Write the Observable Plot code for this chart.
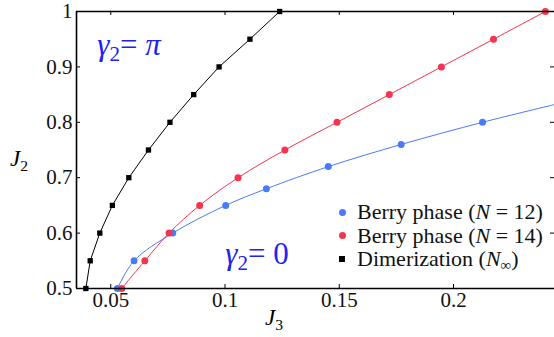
<!DOCTYPE html>
<html><head><meta charset="utf-8">
<script src="https://cdn.jsdelivr.net/npm/d3@7"></script>
<script src="https://cdn.jsdelivr.net/npm/@observablehq/plot@0.6"></script>
<style>
body{margin:0;background:#fff;}
#wrap{position:relative;width:554px;height:337px;font-family:'Liberation Serif',serif;}
.lab{position:absolute;white-space:nowrap;line-height:1;font-family:'Liberation Serif',serif;}
.lab sub{font-size:68%;vertical-align:-0.3em;line-height:0;}
</style></head><body><div id="wrap"></div>
<script>
// Dimerization (N_inf)
const blackJ2 = [0.5,0.55,0.6,0.65,0.7,0.75,0.8,0.85,0.9,0.95,1.0];
const blackJ3 = [0.0391,0.0410,0.0452,0.0507,0.0579,0.0665,0.0759,0.0863,0.0974,0.1109,0.1239];
// Berry phase N = 14
const redJ2 = [0.5,0.55,0.6,0.65,0.7,0.75,0.8,0.85,0.9,0.95,1.0];
const redJ3 = [0.0548,0.0649,0.0755,0.0889,0.1057,0.1262,0.1490,0.1719,0.1947,0.2175,0.2402];
// Berry phase N = 12
const blueJ2 = [0.5,0.55,0.6,0.65,0.68,0.72,0.76,0.8];
const blueJ3 = [0.0529,0.0602,0.0771,0.1003,0.1181,0.1452,0.1771,0.2127];
// blue curve continues to the right edge of the plot
const blueTailJ3 = [0.2442];
const blueTailJ2 = [0.832];

const xTicks = [0.05,0.1,0.15,0.2];
const xTickLabels = ["0.05","0.1","0.15","0.2"];
const yTicks = [0.5,0.6,0.7,0.8,0.9,1];
const yTickLabels = ["0.5","0.6","0.7","0.8","0.9","1"];
const xDomain = [0.035,0.2442];
const yDomain = [0.5,1];

const legendLabels = ["Berry phase (<i>N</i> = 12)","Berry phase (<i>N</i> = 14)","Dimerization (<i>N</i><sub>∞</sub>)"];
const annotations = [
  {x:0.0443, y:0.939, html:"<i>γ</i><sub>2</sub>= <i>π</i>"},
  {x:0.1003, y:0.561, html:"<i>γ</i><sub>2</sub>= 0"}
];

const RED = "#f7344f", BLUE = "#4a7bf7", BLACK = "#000";
const FONT = "'Liberation Serif', serif";

const zip = (xs, ys) => xs.map((x,i)=>({x, y: ys[i]}));
const black = zip(blackJ3, blackJ2);
const red = zip(redJ3, redJ2);
const blue = zip(blueJ3, blueJ2);
const blueLine = blue.concat(zip(blueTailJ3, blueTailJ2));

const W = 554, H = 337, mL = 76, mT = 11, mB = 49, mR = 0;
const fw = W - mL - mR, fh = H - mT - mB;

const plot = Plot.plot({
  width: W, height: H, marginLeft: mL, marginTop: mT, marginBottom: mB, marginRight: mR,
  x: {domain: xDomain}, y: {domain: yDomain},
  style: {fontFamily: FONT, fontSize: "21px", background: "transparent", overflow: "visible"},
  marks: [
    Plot.axisX(xTicks, {tickSize: 0, tickPadding: 4, tickFormat: (d)=>xTickLabels[xTicks.indexOf(d)], label: null, fontSize: 21, fill: "#111"}),
    Plot.axisY(yTicks, {tickSize: 0, tickPadding: 4, tickFormat: (d)=>yTickLabels[yTicks.indexOf(d)], label: null, fontSize: 21, fill: "#111"}),
    Plot.tickX(xTicks, {x: d=>d, insetBottom: fh-4, stroke: "#000"}),
    Plot.tickX(xTicks, {x: d=>d, insetTop: fh-4, stroke: "#000"}),
    Plot.tickY(yTicks, {y: d=>d, insetRight: fw-4, stroke: "#000"}),
    Plot.tickY(yTicks, {y: d=>d, insetLeft: fw-4, stroke: "#000"}),
    Plot.line(blueLine, {x:"x", y:"y", stroke: BLUE, strokeWidth: 1, curve: "catmull-rom"}),
    Plot.line(red, {x:"x", y:"y", stroke: RED, strokeWidth: 1, curve: "catmull-rom"}),
    Plot.line(black, {x:"x", y:"y", stroke: BLACK, strokeWidth: 1}),
    Plot.dot(blue, {x:"x", y:"y", r: 3.5, fill: BLUE}),
    Plot.dot(red, {x:"x", y:"y", r: 3.5, fill: RED}),
    Plot.dot(black, {x:"x", y:"y", r: 3, symbol: "square", fill: BLACK}),
    Plot.ruleY(yDomain, {stroke: "#000", strokeWidth: 1.6}),
    Plot.ruleX([xDomain[0]], {stroke: "#000", strokeWidth: 1.6})
  ]
});

const wrap = document.getElementById("wrap");
wrap.appendChild(plot);
const sx = plot.scale("x"), sy = plot.scale("y");

function addLabel(html, left, top, style) {
  const d = document.createElement("div");
  d.className = "lab";
  d.innerHTML = html;
  d.style.left = left + "px";
  d.style.top = top + "px";
  Object.assign(d.style, style || {});
  wrap.appendChild(d);
  return d;
}

// axis titles
addLabel("<i>J</i><sub>2</sub>", 10, 147, {fontSize: "23px"});
addLabel("<i>J</i><sub>3</sub>", 265, 306, {fontSize: "23px"});

// annotations
for (const a of annotations) {
  const px = sx.apply(a.x), py = sy.apply(a.y);
  addLabel(a.html, px, py - 16, {fontSize: "31px", color: "#2222ee"});
}

// legend
const legendColors = [BLUE, RED, BLACK];
legendLabels.forEach((lab, i) => {
  const cy = 212 + i * 23.5;
  const m = document.createElement("div");
  m.style.position = "absolute";
  const sz = i === 2 ? 6 : 7;
  m.style.width = sz + "px"; m.style.height = sz + "px";
  m.style.left = (342 - sz/2) + "px"; m.style.top = (cy - sz/2) + "px";
  m.style.background = legendColors[i];
  m.style.borderRadius = i === 2 ? "0" : "50%";
  wrap.appendChild(m);
  addLabel(lab, 357, cy - 11, {fontSize: "22px", color: "#111"});
});
</script>
</body></html>
